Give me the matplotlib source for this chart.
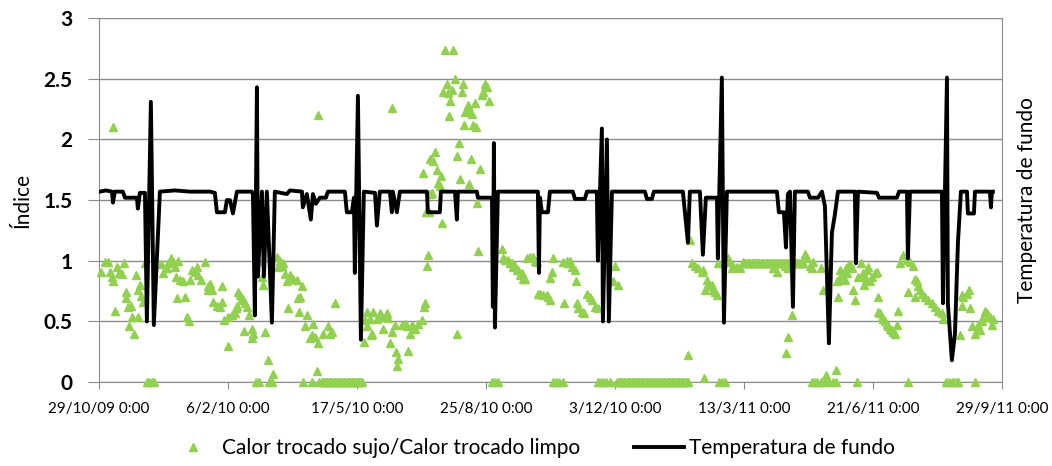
import numpy as np
import pandas as pd
import matplotlib
matplotlib.use("Agg")
import matplotlib.pyplot as plt

plt.rcParams['font.family'] = ['Lato', 'DejaVu Sans']

start = pd.Timestamp('2009-10-29')

# black line: days after 29/10/2009 and value
temp_days = [0.8, 5.4, 10.1, 10.9, 12.4, 18.6, 20.2, 29.5, 30.2, 31.8, 35.7, 37.2, 40.3, 42.6, 47.3,
             58.9, 70.5, 86.0, 89.9, 91.5, 97.7, 99.2, 101.6, 103.9, 107.0, 118.6, 119.4, 120.9, 122.5,
             123.3, 126.4, 127.9, 130.2, 134.1, 136.4, 145.7, 148.1, 157.4, 158.1, 161.2, 164.3, 165.9,
             168.2, 171.3, 176.0, 177.5, 190.7, 192.2, 196.1, 197.7, 198.4, 200.8, 203.1, 205.4, 214.0,
             215.5, 217.8, 225.6, 227.1, 227.9, 231.0, 233.3, 254.3, 255.0, 264.3, 265.1, 276.0, 277.5,
             278.3, 293.0, 293.8, 304.7, 305.4, 306.2, 307.0, 309.3, 340.3, 341.1, 341.9, 343.4, 348.1,
             349.6, 367.4, 369.0, 376.7, 378.3, 386.0, 386.8, 389.9, 390.7, 393.8, 395.3, 397.7, 423.3,
             424.8, 428.7, 430.2, 452.7, 456.6, 458.1, 465.9, 468.2, 470.5, 479.1, 479.8, 482.9, 484.5,
             486.8, 525.6, 527.1, 531.0, 532.6, 534.1, 535.7, 538.0, 539.5, 549.6, 551.2, 557.4, 560.5,
             562.8, 565.9, 568.2, 570.5, 572.9, 586.0, 586.8, 588.4, 603.1, 604.7, 618.6, 620.2, 626.4,
             627.1, 628.7, 653.5, 654.3, 657.4, 658.1, 661.2, 663.6, 665.9, 668.2, 672.9, 673.6, 678.3,
             679.1, 690.7, 691.5, 692.2, 693.0]
temp_vals = [1.57, 1.58, 1.57, 1.48, 1.57, 1.57, 1.52, 1.52, 1.43, 1.56, 1.56, 0.50, 2.31, 0.47, 1.57,
             1.58, 1.57, 1.57, 1.56, 1.40, 1.40, 1.50, 1.50, 1.39, 1.57, 1.57, 1.55, 0.55, 2.43,
             0.87, 1.57, 0.87, 1.57, 0.49, 1.57, 1.55, 1.58, 1.57, 1.44, 1.55, 1.34, 1.55,
             1.47, 1.52, 1.52, 1.57, 1.57, 1.40, 1.40, 1.52, 0.90, 2.36, 0.35, 1.57, 1.56,
             1.29, 1.57, 1.57, 1.40, 1.57, 1.40, 1.57, 1.57, 1.40, 1.40, 1.57, 1.57, 1.34,
             1.57, 1.57, 1.52, 1.52, 0.62, 1.97, 0.45, 1.57, 1.57, 0.90, 1.52, 1.40, 1.40,
             1.57, 1.57, 1.51, 1.51, 1.57, 1.57, 1.00, 2.09, 0.50, 2.00, 0.50, 1.57, 1.57,
             1.51, 1.51, 1.57, 1.57, 1.15, 1.57, 1.57, 1.05, 1.52, 1.52, 1.02, 2.51, 0.49,
             1.57, 1.57, 1.40, 1.40, 1.11, 1.55, 1.57, 0.62, 1.57, 1.57, 1.52, 1.52, 1.57,
             1.45, 0.32, 1.23, 1.38, 1.57, 1.57, 0.98, 1.57, 1.56, 1.52, 1.52, 1.57, 1.57,
             1.02, 1.57, 1.57, 0.65, 2.51, 0.65, 0.18, 0.40, 1.15, 1.57, 1.57, 1.39, 1.39,
             1.57, 1.57, 1.44, 1.57, 1.57]

# green triangles: scattered readings
ratio_days = [1.5, 4.7, 7.2, 8.5, 9.8, 10.6, 11.1, 12.4, 13.7, 15.5, 17.6, 19.6, 20.7, 21.4, 22.7, 23.5,
              24.8, 25.3, 27.4, 28.4, 30.0, 30.5, 31.8, 33.0, 34.3, 35.7,
              48.0, 49.8, 52.5, 53.7, 55.8, 57.6, 58.9, 59.7, 60.2, 61.5, 62.8, 65.3, 66.7, 68.0, 69.8,
              70.5, 71.8, 74.4, 75.7, 77.0, 79.0, 82.2, 84.2,
              84.7, 86.0, 87.4, 88.6, 91.2, 93.8, 95.1, 95.6, 97.1, 99.7, 100.2, 102.8, 105.4, 106.0,
              106.7, 108.0, 109.3, 110.6, 111.9, 112.2, 113.2, 114.5, 116.3, 118.4, 118.8, 119.6,
              123.5, 126.1, 127.4, 128.7, 130.8, 135.1, 137.8, 139.0, 140.3, 142.1, 142.9, 144.2, 145.5,
              146.7, 148.1, 150.6, 153.3, 154.5, 155.0, 155.8, 157.1, 159.7, 161.0, 163.6, 164.9, 166.1,
              167.4, 168.8, 169.5, 170.0,
              173.9, 177.8, 179.0, 180.4, 183.0, 205.7, 206.2, 207.5, 208.0, 210.1, 210.6, 211.4, 212.6,
              215.3, 217.8, 219.1, 220.4, 223.0, 224.3, 225.6, 226.9, 227.4, 229.5, 230.0, 230.8, 232.0,
              234.7, 237.2, 238.5, 239.8, 241.1, 242.4, 245.0, 247.5, 250.2, 251.4, 252.2, 252.7, 253.2,
              254.0, 255.3, 256.6, 257.0,
              255.8, 257.9, 259.1, 260.5, 261.8, 262.5, 264.3, 265.1, 266.1, 266.9, 268.2, 269.5, 270.8,
              271.3, 272.1, 273.4, 274.7, 276.0, 277.3, 277.8, 279.1, 279.8, 281.2, 282.4, 283.2, 283.7,
              285.0, 286.3, 286.8, 287.6, 288.4, 288.9, 290.2, 291.5, 292.0, 292.8, 294.0, 295.3, 296.7,
              297.9, 299.2, 300.5, 302.3,
              312.2, 313.4, 314.7, 317.3, 318.6, 319.9, 321.2, 322.5, 323.8, 325.0, 326.4, 327.7, 328.9,
              330.2, 331.5, 334.1, 336.7, 338.0, 339.3, 340.5, 341.9, 344.4, 347.0, 348.3, 349.6, 349.9,
              350.9, 352.2, 360.0, 360.5, 362.5, 363.8, 365.1, 366.4, 369.0, 369.5, 370.3, 371.6, 374.2,
              376.2, 378.0, 380.6, 381.9, 384.5, 387.1, 398.7, 400.0, 402.6,
              456.3, 458.1, 459.5, 462.0, 464.6, 467.2, 468.5, 468.9, 469.8, 471.1, 472.3, 473.6, 474.9,
              476.2, 477.5, 478.8, 480.1, 487.8, 489.1, 490.5, 491.7, 494.3, 496.9, 499.5,
              522.7, 525.3, 531.8, 533.0, 533.8, 534.3, 537.0, 546.0, 547.3, 548.6, 551.2, 552.5, 553.7,
              559.7, 561.0, 564.0, 571.0, 571.8, 573.1, 574.4, 574.7, 575.7, 577.0, 578.3, 578.8, 579.6,
              580.8, 582.2, 583.5, 584.7, 586.0, 588.6, 590.7, 592.5, 593.3, 593.8, 595.1, 596.4,
              594.6, 597.7, 599.0, 601.6, 602.9, 603.6, 604.1, 605.4, 606.7, 608.0, 609.3, 610.6, 611.9,
              613.2, 614.5, 615.7, 617.1, 618.4, 619.6, 621.0, 623.5, 626.1, 627.4, 628.7, 631.3, 632.6,
              633.0, 633.9, 635.2, 636.5, 637.8, 640.3, 642.9, 645.5, 648.1, 650.7, 653.3, 654.5,
              667.4, 668.7, 669.2, 670.0, 672.6, 674.4, 675.2, 676.5, 679.1, 680.4, 681.7, 683.0, 684.3,
              685.5, 686.8, 688.1, 690.7, 692.0, 693.3]
ratio_vals = [0.91, 0.99, 0.99, 0.91, 0.87, 0.83, 2.10, 0.59, 0.95, 0.90, 0.89, 0.98, 0.74, 0.69, 0.62, 0.46,
              0.63, 0.54, 0.40, 0.88, 0.54, 0.76, 0.80, 0.71, 0.66, 0.98,
              0.97, 0.90, 0.94, 0.98, 1.02, 0.99, 0.95, 0.87, 0.69, 1.00, 0.84, 0.83, 0.70, 0.54, 0.50,
              0.84, 0.92, 0.91, 0.95, 0.88, 0.84, 0.99, 0.79,
              0.76, 0.81, 0.76, 0.66, 0.63, 0.62, 0.66, 0.79, 0.51, 0.30, 0.54, 0.55, 0.57, 0.61,
              0.63, 0.74, 0.72, 0.69, 0.68, 0.42, 0.65, 0.62, 0.55, 0.44, 0.36, 0.40,
              1.00, 0.87, 0.80, 0.41, 0.18, 0.07, 1.03, 0.95, 1.00, 0.96, 0.98, 0.89, 0.83,
              0.61, 0.88, 0.85, 0.84, 0.69, 0.58, 0.70, 0.79, 0.46, 0.55, 0.36, 0.39, 0.48,
              0.37, 0.09, 0.32, 2.20,
              0.40, 0.46, 0.40, 0.41, 0.65, 0.33, 0.51, 0.58, 0.46, 0.52, 0.39, 0.40, 0.58,
              0.52, 0.57, 0.54, 0.44, 0.57, 0.53, 0.32, 0.41, 2.26, 0.47, 0.25, 0.13, 0.19,
              0.47, 0.48, 0.46, 0.26, 0.40, 0.47, 0.44, 0.48, 0.51, 1.72, 0.62, 0.65, 1.40,
              0.96, 1.05, 1.55, 1.84,
              1.40, 1.56, 1.82, 1.90, 1.75, 1.64, 1.62, 1.70, 1.31, 2.39, 2.74, 2.46, 2.38,
              2.19, 2.32, 2.41, 2.74, 2.50, 0.40, 1.86, 1.97, 1.67, 2.39, 2.46, 2.12, 2.23,
              2.25, 2.28, 1.63, 2.23, 1.84, 2.21, 2.12, 2.30, 2.10, 1.48, 1.08, 1.76, 2.37,
              2.39, 2.46, 2.43, 2.32,
              1.10, 1.02, 1.01, 1.01, 0.98, 0.98, 0.95, 0.96, 0.92, 0.92, 0.88, 0.90, 0.85,
              0.85, 1.02, 1.03, 1.03, 1.00, 0.99, 0.73, 0.73, 0.72, 0.72, 0.70, 0.68, 0.86,
              0.91, 1.02, 0.99, 0.65, 1.00, 0.98, 1.00, 0.95, 0.92, 0.83, 0.65, 0.61, 0.58,
              0.57, 0.73, 0.70, 0.68, 0.62, 0.61, 0.83, 0.96, 0.80,
              0.22, 1.17, 0.98, 0.96, 0.94, 0.91, 0.92, 0.03, 0.76, 0.84, 0.81, 0.79, 0.80,
              0.76, 0.74, 0.72, 0.98, 1.02, 0.99, 0.94, 0.96, 0.95, 0.94, 0.99,
              0.94, 0.91, 0.96, 0.24, 0.37, 0.94, 0.55, 0.98, 1.06, 1.02, 0.96, 0.94, 0.99,
              0.94, 0.76, 0.06, 0.10, 0.83, 0.70, 0.85, 0.92, 0.90, 0.87, 0.84, 0.94, 0.90,
              0.96, 0.97, 0.94, 0.76, 0.68, 0.87, 0.98, 0.90, 0.80, 0.87, 0.92, 0.95,
              0.84, 0.83, 0.87, 0.90, 0.91, 0.70, 0.58, 0.57, 0.54, 0.52, 0.50, 0.48, 0.46,
              0.44, 0.43, 0.41, 0.40, 0.47, 0.59, 0.98, 1.05, 1.01, 0.74, 0.99, 0.96, 0.70,
              0.85, 0.83, 0.79, 0.76, 0.73, 0.70, 0.68, 0.65, 0.62, 0.59, 0.57, 0.52,
              0.39, 0.63, 0.72, 0.70, 0.73, 0.76, 0.61, 0.46, 0.40, 0.43, 0.47, 0.43, 0.50,
              0.54, 0.59, 0.57, 0.54, 0.47, 0.52]

# days where the ratio reads 0
ratio_zero_days = [37, 39, 41, 43, 122, 124, 132, 134, 158, 165, 171,
                   173, 174, 175, 176, 177, 178, 179, 180, 181, 182, 183, 184, 185, 186, 187, 188,
                   189, 190, 191, 192, 193, 194, 195, 196, 197, 198, 199, 200, 201, 202, 203, 204,
                   305, 307, 309, 352, 354, 357, 360, 387, 389, 391, 393, 396,
                   402, 403, 404, 405, 406, 407, 408, 409, 410, 411, 412, 413, 414, 415, 416, 417,
                   418, 419, 420, 421, 422, 423, 424, 425, 426, 427, 428, 429, 430, 431, 432, 433,
                   434, 435, 436, 437, 438, 439, 440, 441, 442, 443, 444, 445, 446, 447, 448, 449,
                   450, 451, 452, 453, 454, 455, 456, 457,
                   481, 483, 485, 553, 555, 557, 560, 563, 566, 569, 571, 588, 627,
                   657, 659, 661, 663, 665, 666, 679]

# days of the flat run near 0.98
ratio_flat_days = [501, 502, 503, 504, 505, 506, 507, 508, 509, 510, 511, 512, 513, 514, 515,
                   516, 517, 518, 519, 520, 521, 522, 523, 524, 525, 526, 527, 528, 529, 530,
                   531, 532, 533, 534, 535, 536, 537, 538, 539, 540, 541, 542, 543, 544, 545]
ratio_flat_val = 0.98

tick_days = [0, 100, 200, 300, 400, 500, 600, 700]
ytick_labels = ['0', '0.5', '1', '1.5', '2', '2.5', '3']


def to_dates(days):
    return start + pd.to_timedelta(np.asarray(days, dtype=float), unit='D')


all_days = ratio_days + ratio_zero_days + ratio_flat_days
all_vals = ratio_vals + [0.0] * len(ratio_zero_days) + [ratio_flat_val] * len(ratio_flat_days)

grid_c = '#8c8c8c'
green = '#92D050'

fig = plt.figure(figsize=(10.52, 4.66), dpi=100)
ax = fig.add_axes([0.094, 0.180, 0.8584, 0.7811])

ax.plot(to_dates(all_days), all_vals, linestyle='none', marker='^', ms=5.5,
        color=green, mec=green, label='Calor trocado sujo/Calor trocado limpo',
        zorder=3, clip_on=False)
ax.plot(to_dates(temp_days), temp_vals, color='black', lw=2.8,
        label='Temperatura de fundo', zorder=4)

ax.set_ylim(0, 3)
ax.set_yticks([float(t) for t in ytick_labels])
ax.set_yticklabels(ytick_labels, fontweight='bold', fontsize=15)

tick_dates = to_dates(tick_days)
ax.set_xlim(tick_dates[0], tick_dates[-1])
ax.set_xticks(tick_dates)
ax.set_xticklabels([f"{d.day}/{d.month}/{d:%y} 0:00" for d in tick_dates], fontsize=11)

ax.grid(axis='y', color=grid_c, lw=1)
ax.set_axisbelow(True)
for s in ['left', 'right', 'bottom']:
    ax.spines[s].set_color(grid_c)
ax.spines['top'].set_visible(False)
ax.tick_params(axis='x', color=grid_c, length=5, pad=9)
ax.tick_params(axis='y', color=grid_c, length=8, pad=11)
ax.set_ylabel('Índice', fontsize=15)
ax.yaxis.set_label_coords(-0.074, 0.5)

ax2 = ax.twinx()
ax2.set_yticks([])
for s in ax2.spines.values():
    s.set_visible(False)
ax2.set_ylabel('Temperatura de fundo', fontsize=15, labelpad=11)

h, l = ax.get_legend_handles_labels()
fig.legend(h, l, loc='center', bbox_to_anchor=(0.505, 0.039), ncol=2, frameon=False,
           fontsize=15, numpoints=1, handlelength=2.4, handletextpad=0.2, columnspacing=2.6)

fig.savefig('out.png', dpi=100)
